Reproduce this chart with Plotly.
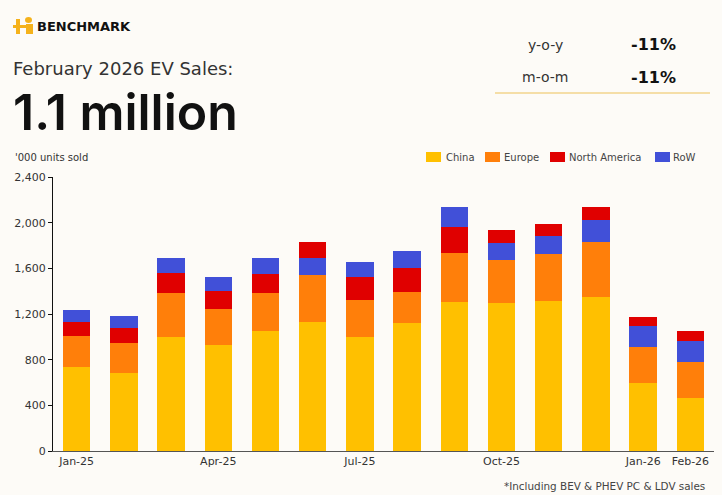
import plotly.graph_objects as go

# monthly EV sales, '000 units
months = ['Jan-25', 'Feb-25', 'Mar-25', 'Apr-25', 'May-25', 'Jun-25', 'Jul-25',
          'Aug-25', 'Sep-25', 'Oct-25', 'Nov-25', 'Dec-25', 'Jan-26', 'Feb-26']
china = [738, 685, 995, 925, 1047, 1129, 995, 1117, 1307, 1295, 1313, 1348, 598, 467]
europe = [268, 260, 388, 315, 336, 411, 332, 277, 428, 376, 411, 484, 312, 315]
north_america = [123, 134, 177, 163, 169, 146, 193, 207, 228, 111, 102, 120, 84, 88]
row = [102, 102, 129, 117, 137, 149, 134, 149, 172, 155, 163, 189, 184, 183]
# months where North America sits above RoW in the stack
na_on_top = [False, False, False, False, False, True, False,
             False, False, True, True, True, True, True]
tick_months = ['Jan-25', 'Apr-25', 'Jul-25', 'Oct-25', 'Jan-26', 'Feb-26']
yoy = '-11%'
mom = '-11%'

FONT = 'DejaVu Sans'
W, H = 722, 495
L, R, T, B = 53, 8, 177, 44
PW, PH = W - L - R, H - T - B

COLORS = {'China': '#FFC000', 'Europe': '#FF7F0A',
          'North America': '#E00000', 'RoW': '#4150D8'}


def px(x):
    return (x - L) / PW


def py(y):
    return (H - B - y) / PH


na_low = [v if not top else None for v, top in zip(north_america, na_on_top)]
na_high = [v if top else None for v, top in zip(north_america, na_on_top)]

fig = go.Figure()
fig.add_trace(go.Bar(x=months, y=china, name='China', marker_color=COLORS['China']))
fig.add_trace(go.Bar(x=months, y=europe, name='Europe', marker_color=COLORS['Europe']))
fig.add_trace(go.Bar(x=months, y=na_low, name='North America',
                     marker_color=COLORS['North America']))
fig.add_trace(go.Bar(x=months, y=row, name='RoW', marker_color=COLORS['RoW']))
fig.add_trace(go.Bar(x=months, y=na_high, name='North America',
                     marker_color=COLORS['North America']))

fig.update_traces(marker_line_width=0)

fig.update_layout(
    width=W, height=H,
    margin=dict(l=L, r=R, t=T, b=B),
    barmode='stack',
    bargap=0.42,
    paper_bgcolor='#FDFBF7',
    plot_bgcolor='#FDFBF7',
    font=dict(family=FONT, color='#333333', size=11),
    showlegend=False,
    xaxis=dict(type='category', tickmode='array', tickvals=tick_months,
               ticktext=tick_months, showline=True, linecolor='#555555', linewidth=1,
               ticks='', showgrid=False, range=[-0.5, len(months) - 0.5],
               tickfont=dict(size=11, color='#333333')),
    yaxis=dict(range=[0, 2400], tickvals=[0, 400, 800, 1200, 1600, 2000, 2400],
               tickformat=',', showline=True, linecolor='#111111', linewidth=1,
               ticks='outside', ticklen=4, tickcolor='#111111', showgrid=False,
               zeroline=False, tickfont=dict(size=11, color='#333333')),
)

# legend drawn by hand so the spacing stays tight like the original
legend_pos = [('China', 426, 446), ('Europe', 485, 504),
              ('North America', 550, 569), ('RoW', 655, 673)]
for name, box_x, text_x in legend_pos:
    fig.add_shape(type='rect', xref='paper', yref='paper',
                  x0=px(box_x), x1=px(box_x + 15), y0=py(162), y1=py(152),
                  fillcolor=COLORS[name], line_width=0)
    fig.add_annotation(text=name, xref='paper', yref='paper',
                       x=px(text_x), y=py(157), xanchor='left', yanchor='middle',
                       showarrow=False, xshift=-2,
                       font=dict(family=FONT, size=10, color='#444444'))

# logo
fig.add_shape(type='rect', xref='paper', yref='paper',
              x0=px(16), x1=px(20), y0=py(34), y1=py(19),
              fillcolor='#F5B21B', line_width=0)
fig.add_shape(type='rect', xref='paper', yref='paper',
              x0=px(26), x1=px(33), y0=py(34), y1=py(24),
              fillcolor='#F5B21B', line_width=0)
fig.add_shape(type='circle', xref='paper', yref='paper',
              x0=px(25), x1=px(32), y0=py(23), y1=py(17),
              fillcolor='#F5B21B', line_width=0)
fig.add_shape(type='rect', xref='paper', yref='paper',
              x0=px(13), x1=px(28), y0=py(28), y1=py(25),
              fillcolor='#F5B21B', line_width=0)

fig.add_annotation(text='<b>BENCHMARK</b>', xref='paper', yref='paper',
                   x=px(35), y=py(26), xanchor='left', yanchor='middle',
                   showarrow=False, font=dict(family=FONT, size=13, color='#111111'))
fig.add_annotation(text='February 2026 EV Sales:', xref='paper', yref='paper',
                   x=px(11), y=py(68.5), xanchor='left', yanchor='middle',
                   showarrow=False, font=dict(family=FONT, size=18, color='#333333'))
fig.add_annotation(text='1.1 million', xref='paper', yref='paper',
                   x=px(11), y=py(111.5), xanchor='left', yanchor='middle',
                   showarrow=False,
                   font=dict(family='Inter', size=50, color='#111111', weight=600))

# y-o-y / m-o-m box
fig.add_annotation(text='y-o-y', xref='paper', yref='paper',
                   x=px(545), y=py(45), xanchor='center', yanchor='middle',
                   showarrow=False, font=dict(family=FONT, size=14, color='#333333'))
fig.add_annotation(text='<b>' + yoy + '</b>', xref='paper', yref='paper',
                   x=px(653), y=py(45), xanchor='center', yanchor='middle',
                   showarrow=False, font=dict(family=FONT, size=16, color='#111111'))
fig.add_annotation(text='m-o-m', xref='paper', yref='paper',
                   x=px(545), y=py(77), xanchor='center', yanchor='middle',
                   showarrow=False, font=dict(family=FONT, size=14, color='#333333'))
fig.add_annotation(text='<b>' + mom + '</b>', xref='paper', yref='paper',
                   x=px(653), y=py(77), xanchor='center', yanchor='middle',
                   showarrow=False, font=dict(family=FONT, size=16, color='#111111'))
fig.add_shape(type='line', xref='paper', yref='paper',
              x0=px(495), x1=px(710), y0=py(93), y1=py(93),
              line=dict(color='#F2D48C', width=1.5))

fig.add_annotation(text="'000 units sold", xref='paper', yref='paper',
                   x=px(13), y=py(157), xanchor='left', yanchor='middle',
                   showarrow=False, font=dict(family=FONT, size=10, color='#333333'))
fig.add_annotation(text='*Including BEV & PHEV PC & LDV sales', xref='paper', yref='paper',
                   x=px(707), y=py(486), xanchor='right', yanchor='middle',
                   showarrow=False, font=dict(family=FONT, size=10.4, color='#444444'))

fig.write_html('out.html',
               config={'displayModeBar': False},
               post_script="document.body.style.margin='0px';"
                           "document.body.style.overflow='hidden';")
